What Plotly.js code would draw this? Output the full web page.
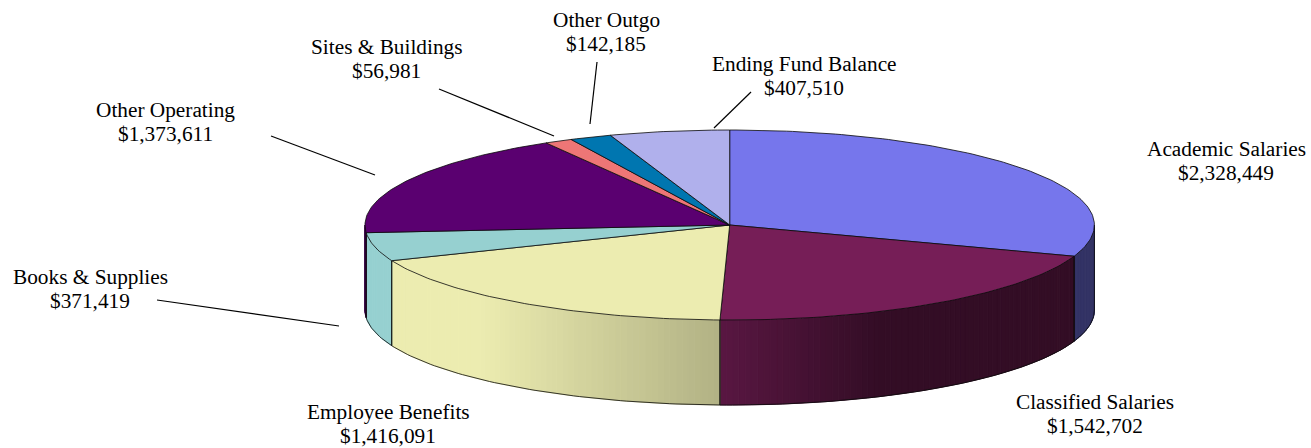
<!DOCTYPE html>
<html>
<head>
<meta charset="utf-8">
<script src="https://cdn.plot.ly/plotly-3.0.1.min.js"></script>
<style>html,body{margin:0;padding:0;background:#fff;overflow:hidden}#chart{width:1311px;height:448px}</style>
</head>
<body>
<div id="chart"></div>
<script>
// ---- data ----
const categories = ["Academic Salaries","Classified Salaries","Employee Benefits","Books & Supplies","Other Operating","Sites & Buildings","Other Outgo","Ending Fund Balance"];
const valueLabels = ["$2,328,449","$1,542,702","$1,416,091","$371,419","$1,373,611","$56,981","$142,185","$407,510"];
// Wedge sizes. All equal the printed labels except Sites & Buildings: its printed label
// says $56,981, but the wedge as drawn in the picture measures about 95,000.
const values = [2328449,1542702,1416091,371419,1373611,95000,142185,407510];

// ---- styling and layout ----
const colors = ["#7676EC","#761E57","#ECECB0","#96D0D0","#5A0070","#EE7676","#0076B0","#B0B0EC"];
const labelCenters = [[1226,149],[1095,402],[388,412],[90,277],[165,110],[386,47],[606,20],[804,64]];
const leaders = [null,null,null,[157,300,339,326],[271,136,375,175],[439,89,554,136],[597,62,590,124],[751,92,714,128]];
const cx = 729.7, cy = 225, rx = 364.7, ry = 95, depth = 85;
const shadeX = [0,480,722,880,1311], shadeK = [1,1,0.75,0.43,0.43];
const edge = "rgba(10,10,10,0.8)";

function shade(hex,x){
  let k = 1;
  for(let i=0;i<shadeX.length-1;i++){
    if(x>=shadeX[i]&&x<=shadeX[i+1]){k=shadeK[i]+(shadeK[i+1]-shadeK[i])*(x-shadeX[i])/(shadeX[i+1]-shadeX[i]);}
  }
  const n=[1,3,5].map(i=>Math.round(parseInt(hex.substr(i,2),16)*k));
  return "rgb("+n.join(",")+")";
}
const px = d => cx + rx*Math.sin(d*Math.PI/180);
const py = d => cy - ry*Math.cos(d*Math.PI/180);
function arc(a,b){const o=[];const n=Math.max(2,Math.ceil(Math.abs(b-a)));for(let i=0;i<=n;i++)o.push(a+(b-a)*i/n);return o;}

const total = values.reduce((s,v)=>s+v,0);
let acc = 0;
const slices = values.map((v,i)=>{const a=acc/total*360;acc+=v;return {a,b:acc/total*360,c:colors[i],name:categories[i]};});

const sideTraces=[], outlineTraces=[], topTraces=[];
slices.forEach(s=>{
  const a=Math.max(s.a,90), b=Math.min(s.b,270);
  if(b>a){
    const ds=arc(a,b);
    for(let i=0;i<ds.length-1;i++){
      const x0=px(ds[i]),x1=px(ds[i+1]),y0=py(ds[i]),y1=py(ds[i+1]);
      const col=shade(s.c,(x0+x1)/2);
      sideTraces.push({type:"scatter",mode:"lines",x:[x0,x1,x1,x0,x0],y:[y0,y1,y1+depth,y0+depth,y0],fill:"toself",fillcolor:col,line:{color:col,width:1},hoverinfo:"skip"});
    }
    const bx=ds.map(px), by=ds.map(d=>py(d)+depth);
    outlineTraces.push({type:"scatter",mode:"lines",x:bx,y:by,line:{color:edge,width:1},hoverinfo:"skip"});
    [a,b].forEach(d=>outlineTraces.push({type:"scatter",mode:"lines",x:[px(d),px(d)],y:[py(d),py(d)+depth],line:{color:edge,width:1},hoverinfo:"skip"}));
  }
  const ds=arc(s.a,s.b);
  topTraces.push({type:"scatter",mode:"lines",name:s.name,
    x:[cx].concat(ds.map(px),[cx]),y:[cy].concat(ds.map(py),[cy]),
    fill:"toself",fillcolor:s.c,line:{color:edge,width:1},hoverinfo:"skip"});
});

const font={family:"Liberation Serif, Times New Roman, serif",size:21.3,color:"#000"};
const annotations=[];
categories.forEach((c,i)=>{
  const [lx,ly]=labelCenters[i];
  annotations.push({x:lx,y:ly,xref:"x",yref:"y",text:c.replace("&","&amp;"),showarrow:false,font,xanchor:"center",yanchor:"middle"});
  annotations.push({x:lx,y:ly+24.3,xref:"x",yref:"y",text:valueLabels[i],showarrow:false,font,xanchor:"center",yanchor:"middle"});
});
const shapes=leaders.filter(Boolean).map(l=>({type:"line",xref:"x",yref:"y",x0:l[0],y0:l[1],x1:l[2],y1:l[3],line:{color:"#000",width:1.2}}));

Plotly.newPlot("chart",sideTraces.concat(outlineTraces,topTraces),{
  width:1311,height:448,margin:{l:0,r:0,t:0,b:0},showlegend:false,
  paper_bgcolor:"#fff",plot_bgcolor:"#fff",
  xaxis:{range:[0,1311],visible:false,fixedrange:true},
  yaxis:{range:[448,0],visible:false,fixedrange:true},
  annotations,shapes
},{displayModeBar:false,staticPlot:true});
</script>
</body>
</html>
